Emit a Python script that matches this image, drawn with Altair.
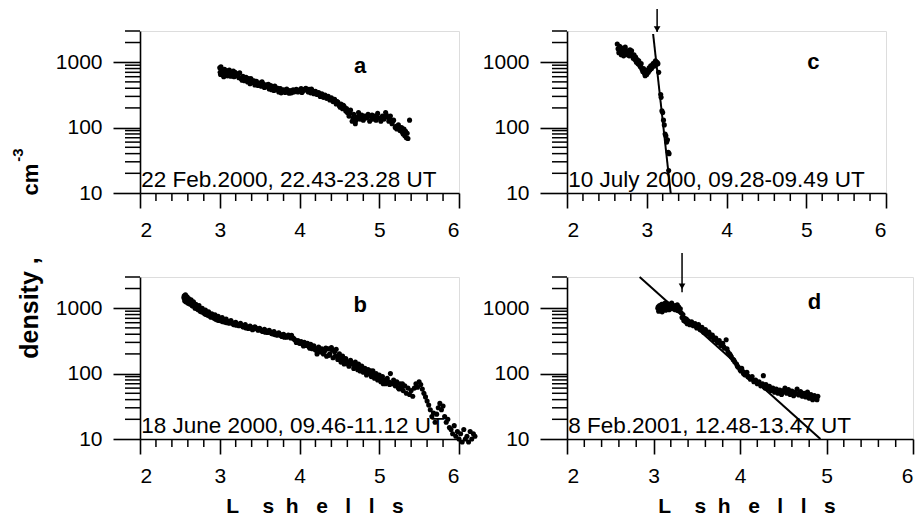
import altair as alt
import pandas as pd

# ---------------- data ----------------
# Panel a: 22 Feb 2000
a_L = [3.00, 3.01, 3.02, 3.03, 3.05, 3.06, 3.08, 3.10, 3.11, 3.13, 3.15, 3.17, 3.18, 3.20, 3.22, 3.24, 3.25, 3.27, 3.29, 3.31,
       3.33, 3.35, 3.36, 3.38, 3.40, 3.42, 3.44, 3.46, 3.48, 3.50, 3.52, 3.54, 3.56, 3.58, 3.60, 3.62, 3.64, 3.66, 3.68, 3.70,
       3.72, 3.74, 3.76, 3.78, 3.80, 3.82, 3.84, 3.86, 3.88, 3.90, 3.92, 3.94, 3.96, 3.98, 4.00, 4.02, 4.04, 4.06, 4.08, 4.10,
       4.12, 4.14, 4.16, 4.18, 4.20, 4.22, 4.24, 4.26, 4.28, 4.30, 4.32, 4.34, 4.36, 4.38, 4.40, 4.42, 4.44, 4.46, 4.48, 4.50,
       4.52, 4.54, 4.56, 4.58, 4.60, 4.62, 4.64, 4.66, 4.68, 4.70, 4.72, 4.74, 4.76, 4.78, 4.80, 4.82, 4.84, 4.86, 4.88, 4.90,
       4.92, 4.94, 4.96, 4.98, 5.00, 5.02, 5.04, 5.06, 5.08, 5.10, 5.12, 5.14, 5.16, 5.18, 5.20, 5.22, 5.24, 5.26, 5.28, 5.30,
       5.31, 5.32, 5.33, 5.34, 5.35, 5.36, 5.38,
       3.005, 3.015, 3.035, 3.045, 3.07, 3.09, 3.12, 3.14, 3.19, 3.23, 3.28, 3.34, 3.39, 3.43, 3.47, 3.53, 3.57, 3.61, 3.65, 3.69,
       3.73, 3.77, 3.83, 3.87, 3.93, 3.97, 4.03, 4.07, 4.11, 4.15, 4.19, 4.23, 4.27, 4.31, 4.35, 4.39, 4.43, 4.47, 4.51, 4.55,
       4.59, 4.63, 4.67, 4.71, 4.75, 4.79, 4.85, 4.91, 4.97, 5.03, 5.09, 5.13, 5.17, 5.21, 5.25, 5.29]
a_N = [820, 650, 760, 700, 600, 780, 690, 740, 620, 700, 660, 730, 600, 680, 620, 580, 690, 560, 610, 520,
       590, 500, 560, 470, 530, 490, 450, 510, 440, 480, 430, 470, 410, 450, 420, 390, 440, 400, 370, 410,
       380, 350, 395, 360, 380, 345, 390, 355, 370, 340, 380, 360, 385, 350, 375, 395, 360, 380, 400, 365,
       385, 340, 370, 330, 360, 320, 345, 300, 330, 290, 315, 280, 300, 265, 285, 250, 270, 230, 245, 215,
       230, 195, 210, 180, 170, 150, 185, 125, 160, 115, 145, 170, 135, 155, 130, 150, 140, 160, 125, 145,
       135, 150, 130, 165, 140, 125, 150, 135, 170, 145, 125, 150, 115, 130, 100, 95, 110, 90, 100, 80,
       95, 75, 88, 70, 82, 68, 130,
       700, 850, 640, 730, 650, 620, 760, 610, 700, 650, 530, 540, 560, 520, 470, 500, 430, 460, 380, 430,
       400, 340, 370, 335, 350, 370, 345, 390, 350, 390, 350, 335, 315, 305, 295, 275, 260, 250, 205, 220,
       195, 165, 140, 130, 150, 140, 145, 155, 140, 140, 155, 135, 125, 105, 100, 85]

# Panel b: 18 June 2000
b_L = [2.55, 2.56, 2.57, 2.58, 2.59, 2.60, 2.61, 2.62, 2.63, 2.64, 2.65, 2.66, 2.67, 2.68, 2.69, 2.70, 2.72, 2.73, 2.74, 2.76,
       2.77, 2.78, 2.80, 2.81, 2.82, 2.84, 2.85, 2.86, 2.88, 2.89, 2.90, 2.92, 2.93, 2.94, 2.96, 2.97, 2.98, 3.00, 3.02, 3.03,
       3.05, 3.07, 3.08, 3.10, 3.12, 3.14, 3.16, 3.18, 3.20, 3.22, 3.24, 3.26, 3.28, 3.30, 3.32, 3.34, 3.36, 3.38, 3.40, 3.42,
       3.44, 3.46, 3.48, 3.50, 3.52, 3.54, 3.56, 3.58, 3.60, 3.62, 3.64, 3.66, 3.68, 3.70, 3.72, 3.74, 3.76, 3.78, 3.80, 3.82,
       3.84, 3.86, 3.88, 3.90, 3.92, 3.94, 3.96, 3.98, 4.00, 4.02, 4.04, 4.06, 4.08, 4.10, 4.12, 4.14, 4.16, 4.18, 4.20, 4.22,
       4.24, 4.26, 4.28, 4.30, 4.32, 4.34, 4.36, 4.38, 4.40, 4.42, 4.44, 4.46, 4.48, 4.50, 4.52, 4.54, 4.56, 4.58, 4.60, 4.62,
       4.64, 4.66, 4.68, 4.70, 4.72, 4.74, 4.76, 4.78, 4.80, 4.82, 4.84, 4.86, 4.88, 4.90, 4.92, 4.94, 4.96, 4.98, 5.00, 5.02,
       5.04, 5.06, 5.08, 5.10, 5.12, 5.14, 5.16, 5.18, 5.20, 5.22, 5.24, 5.26, 5.28, 5.30, 5.32, 5.34, 5.36, 5.38, 5.40, 5.42,
       5.44, 5.46, 5.48, 5.50, 5.52, 5.54, 5.56, 5.58, 5.60, 5.62, 5.64, 5.66, 5.68, 5.70, 5.72, 5.74, 5.76, 5.78, 5.80, 5.82,
       5.84, 5.86, 5.88, 5.90, 5.92, 5.94, 5.96, 5.98, 6.00, 6.02, 6.04, 6.06, 6.08, 6.10, 6.12, 6.14, 6.16, 6.18, 6.20,
       2.555, 2.575, 2.595, 2.615, 2.635, 2.655, 2.675, 2.695, 2.715, 2.735, 2.755, 2.775, 2.795, 2.83, 2.87, 2.91, 2.95, 2.99,
       3.04, 3.09, 3.13, 3.17, 3.21, 3.25, 3.29, 3.33, 3.37, 3.41, 3.45, 3.49, 3.53, 3.57, 3.61, 3.65, 3.69, 3.73, 3.77, 3.81,
       3.85, 3.89, 3.93, 3.97, 4.01, 4.05, 4.09, 4.13, 4.17, 4.21, 4.25, 4.29, 4.33, 4.37, 4.41, 4.45, 4.49, 4.53, 4.57, 4.61,
       4.65, 4.69, 4.73, 4.77, 4.81, 4.85, 4.89, 4.93, 4.97, 5.01, 5.05, 5.09, 5.13, 5.17, 5.21, 5.25, 5.29]
b_N = [1450, 1300, 1600, 1350, 1500, 1200, 1400, 1280, 1150, 1350, 1200, 1080, 1250, 1120, 1000, 1150, 1050, 950, 1100, 980,
       880, 1000, 900, 820, 940, 850, 780, 880, 800, 730, 820, 760, 700, 790, 720, 660, 750, 690, 640, 720,
       660, 610, 680, 630, 590, 650, 600, 560, 610, 570, 540, 590, 545, 515, 560, 520, 490, 535, 505, 480,
       520, 485, 460, 495, 465, 440, 475, 450, 425, 460, 430, 405, 440, 410, 385, 420, 395, 370, 400, 380,
       360, 390, 365, 385, 350, 330, 300, 320, 290, 310, 280, 300, 270, 290, 255, 280, 240, 265, 230, 200,
       255, 215, 240, 200, 225, 185, 240, 200, 250, 175, 215, 235, 165, 200, 150, 185, 140, 170, 150, 130,
       160, 140, 120, 150, 125, 140, 110, 130, 105, 120, 95, 115, 100, 90, 110, 85, 100, 80, 95, 75,
       90, 80, 70, 85, 75, 100, 70, 80, 65, 75, 60, 70, 62, 55, 65, 50, 60, 48, 55, 45,
       60, 70, 62, 75, 68, 58, 50, 44, 38, 33, 28, 22, 25, 18, 24, 30, 35, 28, 32, 22,
       18, 20, 15, 14, 12, 16, 11, 13, 10, 12, 9, 14, 10, 11, 9, 13, 10, 12, 11,
       1550, 1250, 1380, 1180, 1300, 1100, 1180, 1060, 980, 1050, 900, 950, 860, 800, 760, 740, 680, 650,
       620, 600, 620, 570, 550, 560, 520, 500, 510, 470, 500, 470, 450, 430, 440, 410, 395, 400, 380, 360,
       370, 350, 340, 305, 295, 265, 280, 245, 255, 240, 230, 210, 245, 190, 230, 185, 180, 170, 155, 140,
       145, 135, 115, 120, 110, 105, 110, 95, 90, 85, 70, 78, 68, 72, 68, 58, 70]

# Panel c: 10 July 2000
c_L = [2.63, 2.64, 2.65, 2.66, 2.67, 2.68, 2.69, 2.70, 2.71, 2.72, 2.73, 2.74, 2.75, 2.76, 2.77, 2.78, 2.79, 2.80, 2.81, 2.82,
       2.83, 2.84, 2.85, 2.86, 2.87, 2.88, 2.89, 2.90, 2.91, 2.92, 2.93, 2.94, 2.95, 2.96, 2.97, 2.98, 2.99, 3.00, 3.01, 3.02,
       3.03, 3.04, 3.05, 3.06, 3.07, 3.08, 3.09, 3.10, 3.11, 3.12, 3.13, 3.14, 3.15, 3.175, 3.18, 3.19, 3.20, 3.21, 3.22, 3.23,
       3.24, 3.25, 3.26, 3.27, 3.28, 3.275]
c_N = [1900, 1600, 1400, 1750, 1500, 1300, 1650, 1450, 1250, 1550, 1700, 1400, 1300, 1500, 1350, 1250, 1550, 1400, 1500, 1250,
       1150, 1300, 1100, 1200, 1000, 1100, 950, 1050, 900, 850, 950, 780, 720, 800, 680, 620, 700, 650, 760, 700,
       820, 760, 880, 800, 900, 950, 870, 1000, 1050, 920, 1000, 950, 700, 320, 290, 180, 170, 130, 110, 80,
       75, 60, 65, 42, 40, 22]
c_fit_L = [3.08, 3.30]
c_fit_N = [2700, 10]

# Panel d: 8 Feb 2001
d_L = [3.05, 3.06, 3.07, 3.08, 3.09, 3.10, 3.11, 3.12, 3.13, 3.14, 3.15, 3.16, 3.17, 3.18, 3.19, 3.20, 3.21, 3.22, 3.23, 3.24,
       3.25, 3.26, 3.27, 3.28, 3.29, 3.30, 3.31, 3.32, 3.33, 3.34, 3.35, 3.36, 3.37, 3.38, 3.39, 3.40, 3.42, 3.44, 3.46, 3.48,
       3.50, 3.52, 3.54, 3.56, 3.58, 3.60, 3.62, 3.64, 3.66, 3.68, 3.70, 3.72, 3.74, 3.76, 3.78, 3.80, 3.82, 3.84, 3.86, 3.88,
       3.90, 3.92, 3.94, 3.96, 3.98, 4.00, 4.02, 4.04, 4.06, 4.08, 4.10, 4.12, 4.14, 4.16, 4.18, 4.20, 4.22, 4.24, 4.26, 4.27,
       4.28, 4.30, 4.32, 4.34, 4.36, 4.38, 4.40, 4.42, 4.44, 4.46, 4.48, 4.50, 4.52, 4.54, 4.56, 4.58, 4.60, 4.62, 4.64, 4.66,
       4.68, 4.70, 4.72, 4.74, 4.76, 4.78, 4.80, 4.82, 4.84, 4.86, 4.88, 4.90,
       3.055, 3.075, 3.095, 3.115, 3.135, 3.155, 3.175, 3.195, 3.215, 3.235, 3.255, 3.275, 3.295, 3.41, 3.45, 3.49, 3.53, 3.57,
       3.61, 3.65, 3.69, 3.73, 3.77, 3.81, 3.85, 3.89, 3.93, 3.97, 4.01, 4.05, 4.09, 4.13, 4.17, 4.21, 4.25, 4.29, 4.33, 4.37,
       4.41, 4.45, 4.49, 4.53, 4.57, 4.61, 4.65, 4.69, 4.73, 4.77, 4.81, 4.85, 4.89]
d_N = [1000, 900, 1100, 950, 1050, 880, 1150, 1000, 1080, 930, 1200, 1000, 1100, 950, 1150, 1050, 1200, 980, 1100, 1050,
       950, 1100, 1000, 920, 1050, 900, 980, 850, 720, 800, 650, 700, 620, 680, 580, 640, 560, 620, 540, 580,
       500, 560, 470, 510, 430, 470, 400, 430, 360, 390, 330, 350, 300, 320, 270, 290, 245, 330, 215, 200,
       180, 165, 150, 140, 125, 115, 120, 100, 95, 105, 88, 82, 90, 75, 80, 70, 75, 65, 70, 93,
       62, 68, 58, 64, 55, 60, 52, 58, 50, 56, 48, 55, 60, 50, 57, 48, 54, 46, 52, 58,
       47, 53, 45, 50, 44, 52, 42, 48, 40, 46, 42, 45,
       1050, 980, 1150, 960, 1200, 1050, 970, 1080, 1120, 1000, 1050, 1130, 980, 600, 580, 530, 520, 470,
       430, 400, 360, 320, 290, 260, 240, 190, 160, 130, 110, 98, 90, 85, 78, 72, 68, 60, 62, 57,
       54, 53, 51, 53, 52, 50, 49, 50, 48, 47, 45, 44, 40]
d_fit_L = [2.84, 4.93]
d_fit_N = [3000, 10]

# arrows: L position, top and tip densities
c_arrow = {"L": 3.13, "top": 6500, "tip": 2900, "head": 3200}
d_arrow = {"L": 3.33, "top": 7000, "tip": 1750, "head": 2150}

X_DOMAIN = [2, 6]
Y_DOMAIN = [10, 3000]
X_MAJOR = [2, 3, 4, 5, 6]
X_MINOR = [2.2, 2.4, 2.6, 2.8, 3.2, 3.4, 3.6, 3.8, 4.2, 4.4, 4.6, 4.8, 5.2, 5.4, 5.6, 5.8]
Y_MAJOR = [10, 100, 1000]
Y_MINOR = [20, 30, 40, 50, 60, 70, 80, 90, 200, 300, 400, 500, 600, 700, 800, 900, 2000, 3000]

FONT = "Liberation Sans"
H = 162


def panel(L, N, width, letter, letter_pos, date, fit=None, arrow=None, extras=()):
    xs = alt.Scale(domain=X_DOMAIN, nice=False, zero=False)
    ys = alt.Scale(type="log", domain=Y_DOMAIN, nice=False)
    df = pd.DataFrame({"L": L, "N": N})
    common = dict(domainColor="black", tickColor="black", domainWidth=1.6, tickWidth=1.6,
                  labelColor="black", labelFont=FONT, labelFontSize=21, grid=False, title=None)
    ax_x = alt.Axis(orient="bottom", values=X_MAJOR, format="d", tickSize=15, labelPadding=11, **common)
    ax_y = alt.Axis(orient="left", values=Y_MAJOR, format="d", tickSize=27, labelPadding=11, **common)

    pts = alt.Chart(df).mark_circle(size=26, color="black", opacity=1).encode(
        x=alt.X("L:Q", scale=xs, axis=ax_x), y=alt.Y("N:Q", scale=ys, axis=ax_y))
    layers = [pts]

    # minor ticks, positioned by the shared scales
    ymin = alt.Chart(pd.DataFrame({"v": Y_MINOR})).mark_rule(color="black", strokeWidth=1.5).encode(
        y=alt.Y("v:Q", scale=ys, axis=None), x=alt.value(-15), x2=alt.value(0))
    xmin = alt.Chart(pd.DataFrame({"v": X_MINOR})).mark_rule(color="black", strokeWidth=1.5).encode(
        x=alt.X("v:Q", scale=xs, axis=None), y=alt.value(H), y2=alt.value(H + 8))
    layers += [ymin, xmin]

    ldf = pd.DataFrame({"L": [letter_pos[0]], "N": [letter_pos[1]], "t": [letter]})
    layers.append(alt.Chart(ldf).mark_text(font=FONT, fontSize=22, fontWeight="bold", color="black",
                                           align="center", baseline="alphabetic").encode(
        x=alt.X("L:Q", scale=xs, axis=None), y=alt.Y("N:Q", scale=ys, axis=None), text="t:N"))
    ddf = pd.DataFrame({"L": [2.015], "N": [12.5], "t": [date]})
    layers.append(alt.Chart(ddf).mark_text(font=FONT, fontSize=22.5, color="black",
                                           align="left", baseline="alphabetic").encode(
        x=alt.X("L:Q", scale=xs, axis=None), y=alt.Y("N:Q", scale=ys, axis=None), text="t:N"))
    if fit is not None:
        fdf = pd.DataFrame({"L": fit[0], "N": fit[1]})
        layers.append(alt.Chart(fdf).mark_line(color="black", strokeWidth=2).encode(
            x=alt.X("L:Q", scale=xs, axis=None), y=alt.Y("N:Q", scale=ys, axis=None)))
    if arrow is not None:
        adf = pd.DataFrame({"L": [arrow["L"]], "top": [arrow["top"]], "tip": [arrow["tip"]], "head": [arrow["head"]]})
        layers.append(alt.Chart(adf).mark_rule(color="black", strokeWidth=1.5).encode(
            x=alt.X("L:Q", scale=xs, axis=None), y=alt.Y("top:Q", scale=ys, axis=None), y2="tip:Q"))
        layers.append(alt.Chart(adf).mark_point(shape="triangle-down", filled=True, color="black",
                                                opacity=1, size=45).encode(
            x=alt.X("L:Q", scale=xs, axis=None), y=alt.Y("head:Q", scale=ys, axis=None)))
    layers.extend(extras)
    return alt.layer(*layers).resolve_axis(x="independent", y="independent").properties(width=width, height=H)


def ptext(t, x, y, size, angle=0, align="center", baseline="alphabetic"):
    kw = dict(font=FONT, fontSize=size, fontWeight="bold", color="black", align=align, baseline=baseline)
    if angle:
        kw["angle"] = angle
    return alt.Chart(pd.DataFrame({"t": [t]})).mark_text(**kw).encode(
        x=alt.value(x), y=alt.value(y), text="t:N")


NB = "\u00a0"
L_TITLE = "L" + NB * 4 + "s" + NB * 2 + "h" + NB * 3 + "e" + NB * 3 + "l" + NB * 3 + "l" + NB * 3 + "s"

pa = panel(a_L, a_N, 319, "a", (4.76, 684), "22 Feb.2000, 22.43-23.28 UT",
           extras=[ptext("cm", -102, 148.5, 22, angle=270), ptext("-3", -117, 124, 15, angle=270)])
pb = panel(b_L, b_N, 319, "b", (4.76, 870), "18 June 2000, 09.46-11.12 UT",
           extras=[ptext("density ,", -102, 31, 25, angle=270), ptext(L_TITLE, 175, 236, 21)])
pc = panel(c_L, c_N, 319, "c", (5.09, 775), "10 July 2000, 09.28-09.49 UT",
           fit=(c_fit_L, c_fit_N), arrow=c_arrow)
pd_ = panel(d_L, d_N, 346, "d", (4.86, 975), "8 Feb.2001, 12.48-13.47 UT",
            fit=(d_fit_L, d_fit_N), arrow=d_arrow, extras=[ptext(L_TITLE, 180, 236, 21)])

chart = alt.concat(pa, pc, pb, pd_, columns=2, spacing={"row": 84, "column": 108}, bounds="flush").properties(
    padding={"left": 10, "top": 7, "right": 5, "bottom": 5}
).configure_view(strokeWidth=0).configure(background="white")

chart.save("out.html", embed_options={"renderer": "svg", "actions": False})
